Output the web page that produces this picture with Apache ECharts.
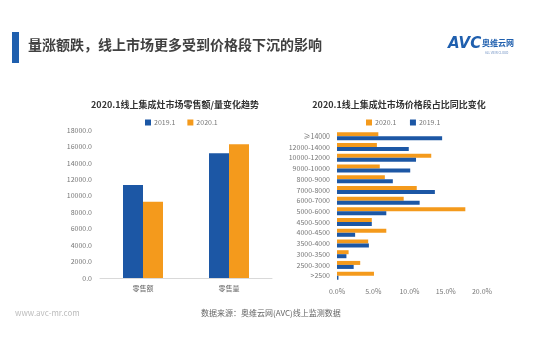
<!DOCTYPE html>
<html><head><meta charset="utf-8">
<script src="https://cdn.jsdelivr.net/npm/echarts@6/dist/echarts.min.js"></script>
<style>html,body{margin:0;padding:0;background:#fff}#c{width:540px;height:360px}</style>
</head><body><div id="c"></div>
<script>
const leftCats = ['零售额', '零售量'];
const left2019 = [11300, 15170];
const left2020 = [9280, 16260];
const leftTicks = [0, 2000, 4000, 6000, 8000, 10000, 12000, 14000, 16000, 18000];

const priceCats = ['≥14000', '12000-14000', '10000-12000', '9000-10000', '8000-9000', '7000-8000', '6000-7000', '5000-6000', '4500-5000', '4000-4500', '3500-4000', '3000-3500', '2500-3000', '>2500'];
const share2020 = [5.7, 5.5, 13.0, 5.9, 6.6, 11.0, 9.2, 17.7, 4.8, 6.8, 4.3, 1.6, 3.2, 5.1];
const share2019 = [14.5, 9.9, 10.9, 10.1, 7.7, 13.5, 11.4, 6.8, 4.8, 2.5, 4.4, 1.3, 2.3, 0.2];

const BLUE = '#1c57a5', ORANGE = '#f49a1c';
const FONT = '"Noto Sans CJK SC", "Noto Sans", sans-serif';
const chart = echarts.init(document.getElementById('c'));
chart.setOption({
  backgroundColor: '#fff',
  textStyle: { fontFamily: FONT },
  title: [
    { text: '2020.1线上集成灶市场零售额/量变化趋势', left: 170, top: 95, textAlign: 'center',
      textStyle: { fontSize: 9, fontWeight: 'bold', color: '#333', fontFamily: FONT } },
    { text: '2020.1线上集成灶市场价格段占比同比变化', left: 394, top: 95, textAlign: 'center',
      textStyle: { fontSize: 9, fontWeight: 'bold', color: '#333', fontFamily: FONT } }
  ],
  legend: [
    { data: ['2019.1', '2020.1'], left: 140, top: 114, itemWidth: 6, itemHeight: 6, itemGap: 12,
      icon: 'rect', textStyle: { fontSize: 7, color: '#777', padding: [0, 0, 0, -2] } },
    { data: ['2020.1 ', '2019.1 '], left: 361, top: 114, itemWidth: 6, itemHeight: 6, itemGap: 12,
      icon: 'rect', textStyle: { fontSize: 7, color: '#777', padding: [0, 0, 0, -2] } }
  ],
  grid: [
    { left: 100, right: 268, top: 130, bottom: 82 },
    { left: 337, right: 58, top: 131, bottom: 79 }
  ],
  xAxis: [
    { type: 'category', gridIndex: 0, data: leftCats,
      axisLine: { lineStyle: { color: '#d9d9d9' } }, axisTick: { show: false },
      axisLabel: { fontSize: 7, color: '#666', margin: 7 } },
    { type: 'value', gridIndex: 1, min: 0, max: 20, interval: 5,
      axisLine: { show: false }, axisTick: { show: false }, splitLine: { show: false },
      axisLabel: { fontSize: 7, color: '#777', margin: 7, formatter: v => v.toFixed(1) + '%' } }
  ],
  yAxis: [
    { type: 'value', gridIndex: 0, min: 0, max: 18000, interval: 2000,
      axisLine: { show: false }, axisTick: { show: false }, splitLine: { show: false },
      axisLabel: { fontSize: 7, color: '#777', margin: 8, formatter: v => v.toFixed(1) } },
    { type: 'category', gridIndex: 1, data: priceCats, inverse: true,
      axisLine: { show: false }, axisTick: { show: false },
      axisLabel: { fontSize: 7, color: '#777', margin: 7 } }
  ],
  series: [
    { name: '2019.1', type: 'bar', xAxisIndex: 0, yAxisIndex: 0, data: left2019,
      barWidth: 20, barGap: '0%', itemStyle: { color: BLUE } },
    { name: '2020.1', type: 'bar', xAxisIndex: 0, yAxisIndex: 0, data: left2020,
      barWidth: 20, barGap: '0%', itemStyle: { color: ORANGE } },
    { name: '2020.1 ', type: 'bar', xAxisIndex: 1, yAxisIndex: 1, data: share2020,
      barWidth: 4, barGap: '0%', itemStyle: { color: ORANGE } },
    { name: '2019.1 ', type: 'bar', xAxisIndex: 1, yAxisIndex: 1, data: share2019,
      barWidth: 4, barGap: '0%', itemStyle: { color: BLUE } }
  ],
  graphic: [
    { type: 'rect', shape: { x: 12, y: 32, width: 7, height: 31 }, style: { fill: '#1f5fae' } },
    { type: 'text', left: 28, top: 38, style: { text: '量涨额跌，线上市场更多受到价格段下沉的影响',
      fontSize: 14, fontWeight: 'bold', fill: '#404040', fontFamily: FONT } },
    { type: 'text', left: 448, top: 37, style: { text: 'AVC', fontSize: 15, fontWeight: 'bold',
      fontStyle: 'italic', fill: '#1f5fae', fontFamily: '"DejaVu Sans", sans-serif' } },
    { type: 'text', left: 482, top: 39, style: { text: '奥维云网', fontSize: 8, fontWeight: 'bold',
      fill: '#1f5fae', fontFamily: FONT } },
    { type: 'text', left: 485, top: 51, style: { text: 'ALL VIEW CLOUD', fontSize: 3,
      fill: '#6a8cc0', fontFamily: FONT } },
    { type: 'text', left: 201, top: 309, style: { text: '数据来源：奥维云网(AVC)线上监测数据',
      fontSize: 8, fill: '#666', fontFamily: FONT } },
    { type: 'text', left: 15, top: 309, style: { text: 'www.avc-mr.com',
      fontSize: 8, fill: '#bbb', fontFamily: FONT } }
  ]
});
</script></body></html>
